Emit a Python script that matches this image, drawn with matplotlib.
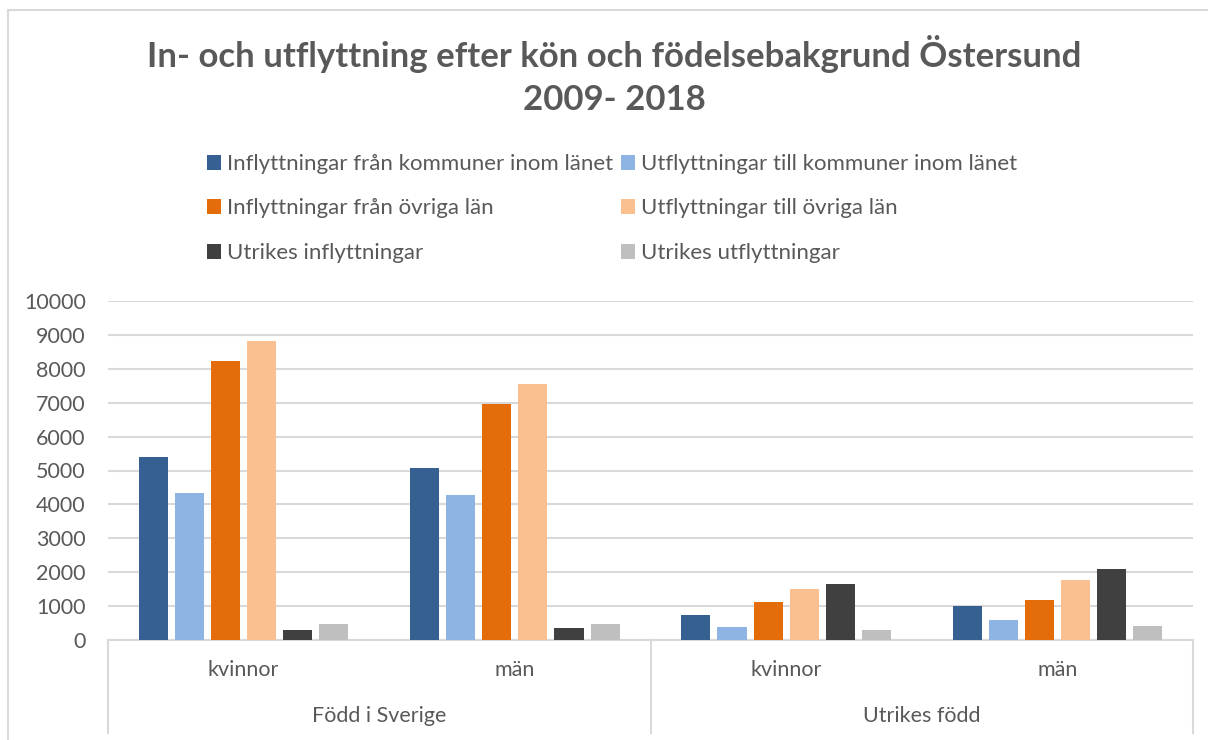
import matplotlib
matplotlib.use("Agg")
import matplotlib.pyplot as plt
from matplotlib.lines import Line2D
from matplotlib.patches import Rectangle
import numpy as np

plt.rcParams["font.family"] = ["Lato", "DejaVu Sans"]

# --- data ---------------------------------------------------------------
categories = ["kvinnor", "män", "kvinnor", "män"]
groups = ["Född i Sverige", "Utrikes född"]
series_names = [
    "Inflyttningar från kommuner inom länet",
    "Utflyttningar till kommuner inom länet",
    "Inflyttningar från övriga län",
    "Utflyttningar till övriga län",
    "Utrikes inflyttningar",
    "Utrikes utflyttningar",
]
inflytt_lan = [5400, 5060, 750, 990]
utflytt_lan = [4330, 4280, 390, 590]
inflytt_ovr = [8240, 6970, 1120, 1190]
utflytt_ovr = [8820, 7560, 1490, 1770]
utrikes_in = [300, 350, 1650, 2090]
utrikes_ut = [460, 470, 300, 410]
series_values = [inflytt_lan, utflytt_lan, inflytt_ovr, utflytt_ovr, utrikes_in, utrikes_ut]
colors = ["#376092", "#8EB4E3", "#E46C0A", "#FAC090", "#404040", "#BFBFBF"]
yticks = list(range(0, 10001, 1000))

TXT = "#595959"
GRID = "#d9d9d9"
FS = 15.5

fig = plt.figure(figsize=(12.08, 7.40), dpi=100)
ax = fig.add_axes([108 / 1208, 1 - 640 / 740, (1193 - 108) / 1208, (640 - 301) / 740])

x = np.arange(len(categories))
step, width = 0.133, 0.107
handles = []
for i, (name, vals, c) in enumerate(zip(series_names, series_values, colors)):
    b = ax.bar(x + (i - 2.5) * step, vals, width, color=c, label=name, zorder=3)
    handles.append(b)

ax.set_xlim(-0.5, len(categories) - 0.5)
ax.set_ylim(0, 10000)
ax.set_yticks(yticks)
ax.set_yticklabels([str(v) for v in yticks])
ax.yaxis.grid(True, color=GRID, lw=1.5, zorder=0)
ax.tick_params(axis="y", length=0, pad=16, labelsize=FS, labelcolor=TXT)
ax.set_xticks([])
for s in ["top", "right", "left"]:
    ax.spines[s].set_visible(False)
ax.spines["bottom"].set_color(GRID)
ax.spines["bottom"].set_linewidth(1.5)

# multi-level category axis
tr = ax.get_xaxis_transform()
for xv in [-0.5, 1.5, 3.5]:
    ax.add_line(Line2D([xv, xv], [0, -0.274], transform=tr, color=GRID, lw=1.5, clip_on=False))
for xv, lab in zip(x, categories):
    ax.text(xv, -0.088, lab, transform=tr, ha="center", va="center", fontsize=FS, color=TXT)
for gi, lab in enumerate(groups):
    ax.text(gi * 2 + 0.5, -0.224, lab, transform=tr, ha="center", va="center", fontsize=FS, color=TXT)

# title
fig.text(614 / 1208, 1 - 54 / 740, "In- och utflyttning efter kön och födelsebakgrund Östersund",
         ha="center", va="center", fontsize=25, fontweight="bold", color=TXT)
fig.text(614 / 1208, 1 - 100 / 740, "2009- 2018",
         ha="center", va="center", fontsize=25, fontweight="bold", color=TXT)

# legend: two columns, filled row by row
order = [0, 2, 4, 1, 3, 5]
fig.legend([handles[i] for i in order], [series_names[i] for i in order],
           ncol=2, loc="upper left", bbox_to_anchor=(207 / 1208, 1 - 154 / 740),
           frameon=False, fontsize=16, labelcolor=TXT, handlelength=0.65, handleheight=0.65,
           handletextpad=0.25, columnspacing=0.35, labelspacing=1.1, borderpad=0, borderaxespad=0)

# outer chart border
fig.patches.append(Rectangle((8 / 1208, -0.05), 1.2, 1 - 10 / 740 + 0.05, transform=fig.transFigure,
                             fill=False, edgecolor=GRID, lw=1.5))

fig.savefig("out.png", dpi=100)
